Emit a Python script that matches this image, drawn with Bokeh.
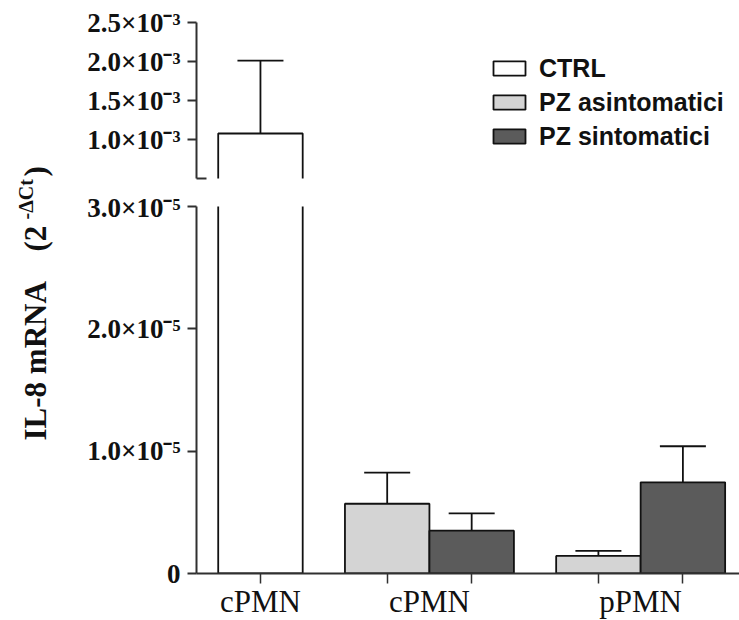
import numpy as np
from bokeh.plotting import figure
from bokeh.models import (ColumnDataSource, Range1d, FixedTicker, LinearAxis,
                          Whisker, TeeHead, Legend, LegendItem)
from bokeh.layouts import row, column
from bokeh.embed import file_html
from bokeh.resources import INLINE
from bokeh.core.properties import value

# ---------------- data ----------------
group_labels = ["cPMN", "cPMN", "pPMN"]
series_names = ["CTRL", "PZ asintomatici", "PZ sintomatici"]
series_colors = ["#ffffff", "#d4d4d4", "#5b5b5b"]

ctrl_groups = [0]
ctrl_mean = [1.077e-3]
ctrl_sem = [0.933e-3]

pz_groups = [1, 2]
asint_mean = [5.7e-6, 1.44e-6]
asint_sem = [2.54e-6, 0.41e-6]
sint_mean = [3.5e-6, 7.45e-6]
sint_sem = [1.42e-6, 2.95e-6]

upper_break = [0.5e-3]
upper_ticks = [1.0e-3, 1.5e-3, 2.0e-3, 2.5e-3]
upper_tick_labels = ["1.0×10⁻³", "1.5×10⁻³", "2.0×10⁻³", "2.5×10⁻³"]
lower_ticks = [0.0, 1.0e-5, 2.0e-5, 3.0e-5]
lower_tick_labels = ["0", "1.0×10⁻⁵", "2.0×10⁻⁵", "3.0×10⁻⁵"]

y_title = ["IL-8 mRNA", "(2", "-ΔCt", ")"]

# ---------------- bar layout (bar width 1, gap 0.5 between groups) ----------------
series_data = {
    "CTRL": (ctrl_groups, ctrl_mean, ctrl_sem),
    "PZ asintomatici": (pz_groups, asint_mean, asint_sem),
    "PZ sintomatici": (pz_groups, sint_mean, sint_sem),
}
bar_pos = {}
group_centers = []
pos = -0.5
for g in range(len(group_labels)):
    centers = []
    for s in series_names:
        if g in series_data[s][0]:
            bar_pos[(s, g)] = pos + 0.5
            centers.append(pos + 0.5)
            pos += 1.0
    group_centers.append(float(np.mean(centers)))
    pos += 0.5
all_bar_x = sorted(bar_pos.values())

sources = {}
for s in series_names:
    gs, m, e = series_data[s]
    xs = [bar_pos[(s, g)] for g in gs]
    sources[s] = ColumnDataSource(dict(
        x=xs, ymid=[v / 2 for v in m], h=m, lower=m,
        upper=[a + b for a, b in zip(m, e)]))

X_RANGE = (-0.757, 5.67)
AXIS_COLOR = "#303030"
SERIF = "Liberation Serif"
INK = "#111111"


def base_fig(frame_h, y_rng, top, bottom):
    p = figure(frame_width=543, frame_height=frame_h,
               x_range=Range1d(*X_RANGE), y_range=Range1d(*y_rng),
               x_axis_location=None, toolbar_location=None,
               output_backend="svg", min_border_left=136,
               min_border_right=0, min_border_top=top,
               min_border_bottom=bottom)
    p.outline_line_color = None
    p.xgrid.visible = False
    p.ygrid.visible = False
    p.background_fill_color = "white"
    p.border_fill_color = "white"
    ax = p.yaxis[0]
    ax.axis_line_color = AXIS_COLOR
    ax.axis_line_width = 2
    ax.major_tick_line_color = AXIS_COLOR
    ax.major_tick_line_width = 2
    ax.major_tick_out = 9
    ax.major_tick_in = 0
    ax.minor_tick_line_color = AXIS_COLOR
    ax.minor_tick_line_width = 2
    ax.minor_tick_out = 0
    ax.minor_tick_in = 10
    ax.major_label_text_font = SERIF
    ax.major_label_text_font_style = "bold"
    ax.major_label_text_font_size = "27px"
    ax.major_label_text_color = INK
    ax.major_label_standoff = 7
    return p


def draw_bars(p):
    rs = []
    for s, c in zip(series_names, series_colors):
        r = p.rect(x="x", y="ymid", width=1.0, height="h", source=sources[s],
                   fill_color=c, line_color=INK, line_width=1.8)
        rs.append(r)
    return rs


def add_whiskers(p, names):
    for s in names:
        w = Whisker(base="x", upper="upper", lower="lower", source=sources[s],
                    dimension="height", line_color=INK, line_width=1.8,
                    upper_head=TeeHead(size=46, line_color=INK, line_width=1.8),
                    lower_head=None)
        p.add_layout(w)


# ---------------- upper segment ----------------
up = base_fig(156, (upper_break[0], upper_ticks[-1]), 22, 14)
up.yaxis[0].ticker = FixedTicker(ticks=upper_ticks, minor_ticks=upper_break)
up.yaxis[0].major_label_overrides = dict(zip(upper_ticks, upper_tick_labels))
rs = draw_bars(up)
add_whiskers(up, ["CTRL"])
legend = Legend(items=[LegendItem(label=s, renderers=[r]) for s, r in zip(series_names, rs)],
                location=(293, 25), orientation="vertical",
                glyph_width=40, glyph_height=18, label_height=34, spacing=0,
                label_standoff=10, padding=0, margin=0,
                label_text_font="Liberation Sans", label_text_font_style="bold",
                label_text_font_size="25px", label_text_color=INK,
                border_line_color=None, background_fill_alpha=0)
up.add_layout(legend)

# ---------------- lower segment ----------------
lo = base_fig(367, (lower_ticks[0], lower_ticks[-1]), 14, 10)
lo.yaxis[0].ticker = FixedTicker(ticks=lower_ticks)
lo.yaxis[0].major_label_overrides = dict(zip(lower_ticks, lower_tick_labels))
draw_bars(lo)
add_whiskers(lo, ["PZ asintomatici", "PZ sintomatici"])

xaxis = LinearAxis(ticker=FixedTicker(ticks=group_centers, minor_ticks=all_bar_x))
xaxis.axis_line_color = AXIS_COLOR
xaxis.axis_line_width = 2
xaxis.major_tick_line_color = None
xaxis.major_tick_out = 0
xaxis.major_tick_in = 0
xaxis.minor_tick_line_color = AXIS_COLOR
xaxis.minor_tick_line_width = 1.5
xaxis.minor_tick_out = 10
xaxis.minor_tick_in = 0
xaxis.major_label_overrides = dict(zip(group_centers, group_labels))
xaxis.major_label_text_font = SERIF
xaxis.major_label_text_font_size = "31px"
xaxis.major_label_text_color = INK
xaxis.major_label_standoff = 0
lo.add_layout(xaxis, "below")

# ---------------- y-axis title (spans both segments) ----------------
tf = figure(width=60, height=620, x_range=Range1d(0, 60), y_range=Range1d(0, 620),
            x_axis_location=None, y_axis_location=None, toolbar_location=None,
            output_backend="svg", min_border=0)
tf.outline_line_color = None
tf.xgrid.visible = False
tf.ygrid.visible = False
common = dict(angle=np.pi / 2, text_font=value(SERIF), text_font_style="bold",
              text_align="left", text_baseline="alphabetic", text_color=INK)
tf.text(x=[35], y=[620 - 440], text=[y_title[0]], text_font_size="31px", **common)
tf.text(x=[35], y=[620 - 251], text=[y_title[1]], text_font_size="31px", **common)
tf.text(x=[25], y=[620 - 219], text=[y_title[2]], text_font_size="20px", **common)
tf.text(x=[35], y=[620 - 176], text=[y_title[3]], text_font_size="31px", **common)

layout = row(tf, column(up, lo, spacing=0), spacing=0)
open("out.html", "w").write(file_html(layout, INLINE))
